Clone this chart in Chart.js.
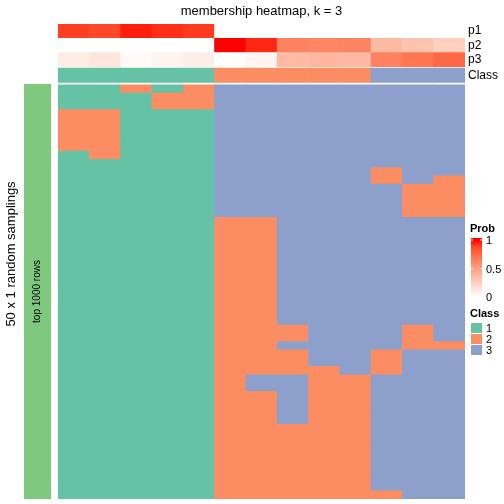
<!DOCTYPE html>
<html>
<head>
<meta charset="utf-8">
<script src="https://cdn.jsdelivr.net/npm/chart.js@4.4.0/dist/chart.umd.min.js"></script>
<style>
  html, body { margin: 0; padding: 0; background: #fff; }
  #wrap { position: relative; width: 504px; height: 504px; }
  #main { position: absolute; left: 0; top: 0; }
  #side { position: absolute; left: 24px; top: 84px; }
</style>
</head>
<body>
<div id="wrap">
  <canvas id="main" width="504" height="504"></canvas>
  <canvas id="side" width="27" height="415"></canvas>
</div>
<script>
(function () {
  "use strict";

  // ── Data ─────────────────────────────────────────────────────────

  const samples = ["1", "2", "3", "4", "5", "6", "7", "8", "9", "10", "11", "12", "13"];
  const p1 = [0.90, 0.87, 0.97, 0.94, 0.91, 0, 0, 0, 0, 0, 0, 0, 0];
  const p2 = [0, 0, 0, 0, 0, 1.00, 0.95, 0.64, 0.62, 0.63, 0.36, 0.31, 0.25];
  const p3 = [0.10, 0.13, 0.03, 0.06, 0.09, 0, 0.05, 0.36, 0.38, 0.37, 0.64, 0.69, 0.75];
  const consensus = [1, 1, 1, 1, 1, 2, 2, 2, 2, 2, 3, 3, 3];

  // class assigned in each of the 50 random samplings (rows, top to bottom)
  const samplings = [
    [1, 1, 2, 1, 2, 3, 3, 3, 3, 3, 3, 3, 3],
    [1, 1, 1, 2, 2, 3, 3, 3, 3, 3, 3, 3, 3],
    [1, 1, 1, 2, 2, 3, 3, 3, 3, 3, 3, 3, 3],
    [2, 2, 1, 1, 1, 3, 3, 3, 3, 3, 3, 3, 3],
    [2, 2, 1, 1, 1, 3, 3, 3, 3, 3, 3, 3, 3],
    [2, 2, 1, 1, 1, 3, 3, 3, 3, 3, 3, 3, 3],
    [2, 2, 1, 1, 1, 3, 3, 3, 3, 3, 3, 3, 3],
    [2, 2, 1, 1, 1, 3, 3, 3, 3, 3, 3, 3, 3],
    [1, 2, 1, 1, 1, 3, 3, 3, 3, 3, 3, 3, 3],
    [1, 1, 1, 1, 1, 3, 3, 3, 3, 3, 3, 3, 3],
    [1, 1, 1, 1, 1, 3, 3, 3, 3, 3, 2, 3, 3],
    [1, 1, 1, 1, 1, 3, 3, 3, 3, 3, 2, 3, 2],
    [1, 1, 1, 1, 1, 3, 3, 3, 3, 3, 3, 2, 2],
    [1, 1, 1, 1, 1, 3, 3, 3, 3, 3, 3, 2, 2],
    [1, 1, 1, 1, 1, 3, 3, 3, 3, 3, 3, 2, 2],
    [1, 1, 1, 1, 1, 3, 3, 3, 3, 3, 3, 2, 2],
    [1, 1, 1, 1, 1, 2, 2, 3, 3, 3, 3, 3, 3],
    [1, 1, 1, 1, 1, 2, 2, 3, 3, 3, 3, 3, 3],
    [1, 1, 1, 1, 1, 2, 2, 3, 3, 3, 3, 3, 3],
    [1, 1, 1, 1, 1, 2, 2, 3, 3, 3, 3, 3, 3],
    [1, 1, 1, 1, 1, 2, 2, 3, 3, 3, 3, 3, 3],
    [1, 1, 1, 1, 1, 2, 2, 3, 3, 3, 3, 3, 3],
    [1, 1, 1, 1, 1, 2, 2, 3, 3, 3, 3, 3, 3],
    [1, 1, 1, 1, 1, 2, 2, 3, 3, 3, 3, 3, 3],
    [1, 1, 1, 1, 1, 2, 2, 3, 3, 3, 3, 3, 3],
    [1, 1, 1, 1, 1, 2, 2, 3, 3, 3, 3, 3, 3],
    [1, 1, 1, 1, 1, 2, 2, 3, 3, 3, 3, 3, 3],
    [1, 1, 1, 1, 1, 2, 2, 3, 3, 3, 3, 3, 3],
    [1, 1, 1, 1, 1, 2, 2, 3, 3, 3, 3, 3, 3],
    [1, 1, 1, 1, 1, 2, 2, 2, 3, 3, 3, 2, 3],
    [1, 1, 1, 1, 1, 2, 2, 2, 3, 3, 3, 2, 3],
    [1, 1, 1, 1, 1, 2, 2, 3, 3, 3, 3, 2, 2],
    [1, 1, 1, 1, 1, 2, 2, 2, 3, 3, 2, 3, 3],
    [1, 1, 1, 1, 1, 2, 2, 2, 3, 3, 2, 3, 3],
    [1, 1, 1, 1, 1, 2, 2, 2, 2, 3, 2, 3, 3],
    [1, 1, 1, 1, 1, 2, 3, 3, 2, 2, 3, 3, 3],
    [1, 1, 1, 1, 1, 2, 3, 3, 2, 2, 3, 3, 3],
    [1, 1, 1, 1, 1, 2, 2, 3, 2, 2, 3, 3, 3],
    [1, 1, 1, 1, 1, 2, 2, 3, 2, 2, 3, 3, 3],
    [1, 1, 1, 1, 1, 2, 2, 3, 2, 2, 3, 3, 3],
    [1, 1, 1, 1, 1, 2, 2, 3, 2, 2, 3, 3, 3],
    [1, 1, 1, 1, 1, 2, 2, 2, 2, 2, 3, 3, 3],
    [1, 1, 1, 1, 1, 2, 2, 2, 2, 2, 3, 3, 3],
    [1, 1, 1, 1, 1, 2, 2, 2, 2, 2, 3, 3, 3],
    [1, 1, 1, 1, 1, 2, 2, 2, 2, 2, 3, 3, 3],
    [1, 1, 1, 1, 1, 2, 2, 2, 2, 2, 3, 3, 3],
    [1, 1, 1, 1, 1, 2, 2, 2, 2, 2, 3, 3, 3],
    [1, 1, 1, 1, 1, 2, 2, 2, 2, 2, 3, 3, 3],
    [1, 1, 1, 1, 1, 2, 2, 2, 2, 2, 3, 3, 3],
    [1, 1, 1, 1, 1, 2, 2, 2, 2, 2, 2, 3, 3],
  ];

  const probTicks = [1, 0.5, 0];
  const classLevels = [1, 2, 3];

  const CLASS_COLORS = { 1: "#66C2A5", 2: "#FC8D62", 3: "#8DA0CB" };
  const SIDE_COLOR = "#7FC97F";
  const FONT = "'Liberation Sans', Arial, sans-serif";

  // row heights in units of one sampling row
  const ANNO_H = 1.72;
  const GAP_CLASS = 0.16;
  const GAP_MAIN = 0.29;

  // ── Colour ramp white -> red in LAB (like colorRamp2) ────────────

  function toLin(c) { c /= 255; return c <= 0.04045 ? c / 12.92 : Math.pow((c + 0.055) / 1.055, 2.4); }
  function fromLin(c) {
    c = c <= 0.0031308 ? 12.92 * c : 1.055 * Math.pow(c, 1 / 2.4) - 0.055;
    return Math.round(Math.max(0, Math.min(1, c)) * 255);
  }
  function rgbToLab(rgb) {
    var r = toLin(rgb[0]), g = toLin(rgb[1]), b = toLin(rgb[2]);
    var x = (0.4124 * r + 0.3576 * g + 0.1805 * b) / 0.95047;
    var y = 0.2126 * r + 0.7152 * g + 0.0722 * b;
    var z = (0.0193 * r + 0.1192 * g + 0.9505 * b) / 1.08883;
    function f(t) { return t > 0.008856 ? Math.cbrt(t) : 7.787 * t + 16 / 116; }
    var fx = f(x), fy = f(y), fz = f(z);
    return [116 * fy - 16, 500 * (fx - fy), 200 * (fy - fz)];
  }
  function labToRgb(lab) {
    var fy = (lab[0] + 16) / 116, fx = fy + lab[1] / 500, fz = fy - lab[2] / 200;
    function fi(t) { return t > 0.206893 ? t * t * t : (t - 16 / 116) / 7.787; }
    var x = fi(fx) * 0.95047, y = fi(fy), z = fi(fz) * 1.08883;
    var r = 3.2406 * x - 1.5372 * y - 0.4986 * z;
    var g = -0.9689 * x + 1.8758 * y + 0.0415 * z;
    var b = 0.0557 * x - 0.2040 * y + 1.0570 * z;
    return [fromLin(r), fromLin(g), fromLin(b)];
  }
  var LAB_LO = rgbToLab([255, 255, 255]);
  var LAB_HI = rgbToLab([255, 0, 0]);
  function probColor(v) {
    var lab = [0, 1, 2].map(function (i) { return LAB_LO[i] + (LAB_HI[i] - LAB_LO[i]) * v; });
    var c = labToRgb(lab);
    return "rgb(" + c[0] + "," + c[1] + "," + c[2] + ")";
  }

  // ── Datasets (stacked bottom to top) ─────────────────────────────

  function rowDataset(label, colors, height) {
    return {
      label: label,
      data: samples.map(function () { return height; }),
      backgroundColor: colors,
    };
  }

  var datasets = [];
  for (var r = samplings.length - 1; r >= 0; r--) {
    datasets.push(rowDataset("run" + (r + 1), samplings[r].map(function (c) { return CLASS_COLORS[c]; }), 1));
  }
  datasets.push(rowDataset("", "rgba(0,0,0,0)", GAP_MAIN));
  datasets.push(rowDataset("Class", consensus.map(function (c) { return CLASS_COLORS[c]; }), ANNO_H));
  datasets.push(rowDataset("", "rgba(0,0,0,0)", GAP_CLASS));
  datasets.push(rowDataset("p3", p3.map(probColor), ANNO_H));
  datasets.push(rowDataset("p2", p2.map(probColor), ANNO_H));
  datasets.push(rowDataset("p1", p1.map(probColor), ANNO_H));

  var total = samplings.length + GAP_MAIN + GAP_CLASS + 4 * ANNO_H;

  // ── Text and legends ─────────────────────────────────────────────

  var decorPlugin = {
    id: "decor",
    afterDraw: function (chart) {
      var ctx = chart.ctx;
      var area = chart.chartArea;
      ctx.save();
      ctx.fillStyle = "#000";

      // title
      ctx.font = "13px " + FONT;
      ctx.textAlign = "center";
      ctx.textBaseline = "middle";
      ctx.fillText("membership heatmap, k = 3", (area.left + area.right) / 2, 11);

      // annotation names
      ctx.font = "12px " + FONT;
      ctx.textAlign = "left";
      chart.data.datasets.forEach(function (ds, i) {
        if (["p1", "p2", "p3", "Class"].indexOf(ds.label) < 0) return;
        var bar = chart.getDatasetMeta(i).data[0];
        ctx.fillText(ds.label, area.right + 3, (bar.y + bar.base) / 2);
      });

      // row title
      ctx.save();
      ctx.translate(11, 254);
      ctx.rotate(-Math.PI / 2);
      ctx.font = "13px " + FONT;
      ctx.textAlign = "center";
      ctx.fillText("50 x 1 random samplings", 0, 0);
      ctx.restore();

      // Prob legend
      var lx = 471, lw = 11, top = 240, bot = 297;
      ctx.font = "bold 11px " + FONT;
      ctx.textAlign = "left";
      ctx.fillText("Prob", 470, 229);
      var grad = ctx.createLinearGradient(0, top, 0, bot);
      for (var k = 0; k <= 10; k++) grad.addColorStop(k / 10, probColor(1 - k / 10));
      ctx.fillStyle = grad;
      ctx.fillRect(lx, top - 2, lw, bot - top + 2);
      ctx.font = "11px " + FONT;
      probTicks.forEach(function (v) {
        var y = bot - (bot - top) * v;
        ctx.strokeStyle = "#fff";
        ctx.lineWidth = 1;
        ctx.beginPath();
        ctx.moveTo(lx, y); ctx.lineTo(lx + 2, y);
        ctx.moveTo(lx + lw - 2, y); ctx.lineTo(lx + lw, y);
        ctx.stroke();
        ctx.fillStyle = "#000";
        ctx.fillText(String(v), 486, y + 1);
      });

      // Class legend
      ctx.font = "bold 11px " + FONT;
      ctx.fillText("Class", 470, 314);
      ctx.font = "11px " + FONT;
      classLevels.forEach(function (c, i) {
        var y = 323 + i * 11;
        ctx.fillStyle = CLASS_COLORS[c];
        ctx.fillRect(lx, y, lw, 10);
        ctx.fillStyle = "#000";
        ctx.fillText(String(c), 486, y + 5.5);
      });
      ctx.restore();
    },
  };

  new Chart(document.getElementById("main"), {
    type: "bar",
    data: { labels: samples, datasets: datasets },
    options: {
      responsive: false,
      animation: false,
      events: [],
      layout: { padding: { left: 58, right: 39, top: 24, bottom: 5 } },
      datasets: { bar: { barPercentage: 1, categoryPercentage: 1, borderWidth: 0 } },
      plugins: { legend: { display: false }, tooltip: { enabled: false } },
      scales: {
        x: { stacked: true, display: false },
        y: { stacked: true, display: false, min: 0, max: total },
      },
    },
    plugins: [decorPlugin],
  });

  // ── Row annotation bar on the left ───────────────────────────────

  var sidePlugin = {
    id: "sideText",
    afterDraw: function (chart) {
      var ctx = chart.ctx;
      var bar = chart.getDatasetMeta(0).data[0];
      ctx.save();
      ctx.translate(bar.x, (bar.y + bar.base) / 2);
      ctx.rotate(-Math.PI / 2);
      ctx.font = "10px " + FONT;
      ctx.fillStyle = "#000";
      ctx.textAlign = "center";
      ctx.textBaseline = "middle";
      ctx.fillText(chart.data.labels[0], 0, 0);
      ctx.restore();
    },
  };

  new Chart(document.getElementById("side"), {
    type: "bar",
    data: {
      labels: ["top 1000 rows"],
      datasets: [{ data: [1], backgroundColor: SIDE_COLOR, borderWidth: 0 }],
    },
    options: {
      responsive: false,
      animation: false,
      events: [],
      layout: { padding: 0 },
      datasets: { bar: { barPercentage: 1, categoryPercentage: 1 } },
      plugins: { legend: { display: false }, tooltip: { enabled: false } },
      scales: {
        x: { display: false },
        y: { display: false, min: 0, max: 1 },
      },
    },
    plugins: [sidePlugin],
  });
})();
</script>
</body>
</html>
